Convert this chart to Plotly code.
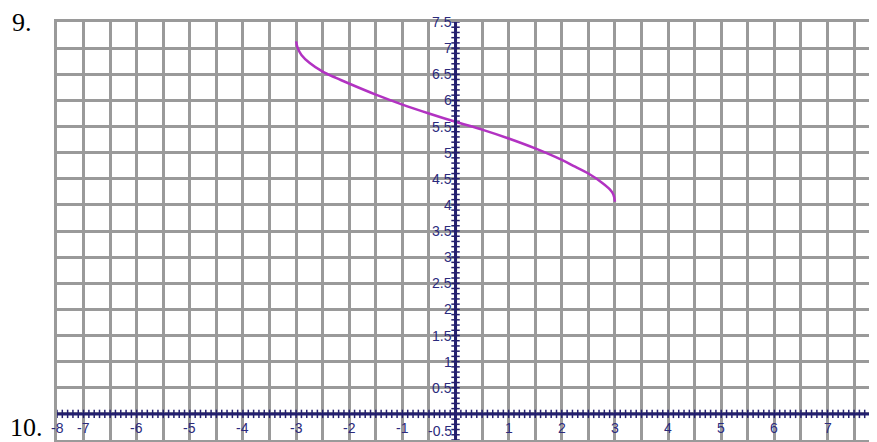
import numpy as np
import plotly.graph_objects as go

# curve
curve_x = [-3, -2.97, -2.9, -2.75, -2.5, -2.25, -2, -1.5, -1, -0.5, 0,
           0.5, 1, 1.5, 2, 2.25, 2.5, 2.75, 2.9, 2.97, 3]
curve_y = [7.13, 7.0, 6.87, 6.72, 6.55, 6.43, 6.32, 6.11, 5.92, 5.75, 5.59,
           5.44, 5.27, 5.08, 4.86, 4.73, 4.6, 4.43, 4.3, 4.2, 4.06]

x_ticks = [-8, -7, -6, -5, -4, -3, -2, -1, 1, 2, 3, 4, 5, 6, 7, 8]
y_ticks = [-0.5, 0.5, 1, 1.5, 2, 2.5, 3, 3.5, 4, 4.5, 5, 5.5, 6, 6.5, 7, 7.5]

X_MIN, X_MAX = -7.5, 7.875
Y_MIN, Y_MAX = -0.5, 7.5

AXIS = "#231f6e"
LABEL = "#2b2a7c"
GRID = "#9a9a9a"

fig = go.Figure()

# axis lines with little ticks every 0.1
fig.add_shape(type="line", x0=X_MIN, x1=X_MAX, y0=0, y1=0,
              line=dict(color=AXIS, width=3))
fig.add_shape(type="line", x0=0, x1=0, y0=Y_MIN, y1=Y_MAX,
              line=dict(color=AXIS, width=3))

tx = np.round(np.arange(X_MIN, X_MAX, 0.1), 2)
fig.add_trace(go.Scatter(x=tx, y=np.zeros_like(tx), mode="markers",
                         marker=dict(symbol="line-ns", size=6,
                                     line=dict(color=AXIS, width=1.5)),
                         hoverinfo="skip", showlegend=False))
ty = np.round(np.arange(Y_MIN, Y_MAX + 0.01, 0.1), 2)
fig.add_trace(go.Scatter(x=np.zeros_like(ty), y=ty, mode="markers",
                         marker=dict(symbol="line-ew", size=6,
                                     line=dict(color=AXIS, width=1.5)),
                         hoverinfo="skip", showlegend=False))

fig.add_trace(go.Scatter(x=curve_x, y=curve_y, mode="lines",
                         line=dict(color="#b232c2", width=2.5, shape="spline"),
                         showlegend=False))

for v in x_ticks:
    xv = min(max(v, X_MIN), X_MAX + 0.1)
    fig.add_annotation(x=xv, y=0, text=str(v), showarrow=False,
                       xanchor="center", yanchor="middle", yshift=-14,
                       font=dict(family="Liberation Sans", size=14, color=LABEL))
for v in y_ticks:
    # bottom label sits on the lower edge, keep it inside the page
    anchor = "bottom" if v == Y_MIN else "middle"
    fig.add_annotation(x=0, y=v, text=str(v), showarrow=False,
                       xanchor="right", yanchor=anchor, xshift=-2,
                       yshift=-1 if v == Y_MIN else 0,
                       font=dict(family="Liberation Sans", size=14, color=LABEL))

# question numbers from the page
fig.add_annotation(xref="paper", yref="paper", x=-0.0427, y=1.0, text="9.",
                   showarrow=False, xanchor="center", yanchor="middle",
                   font=dict(family="Liberation Serif", size=26, color="black"))
fig.add_annotation(xref="paper", yref="paper", x=-0.0598, y=0.031, text="10.",
                   showarrow=False, xanchor="left", yanchor="middle",
                   font=dict(family="Liberation Serif", size=26, color="black"))

fig.update_xaxes(range=[X_MIN, X_MAX], dtick=0.5, tick0=0, showgrid=True,
                 gridcolor=GRID, gridwidth=2.5, zeroline=False,
                 showticklabels=False, showline=True, mirror=True,
                 linecolor=GRID, linewidth=2.5, ticks="")
fig.update_yaxes(range=[Y_MIN, Y_MAX], dtick=0.5, tick0=0, showgrid=True,
                 gridcolor=GRID, gridwidth=2.5, zeroline=False,
                 showticklabels=False, showline=True, mirror=True,
                 linecolor=GRID, linewidth=2.5, ticks="")

# page body adds 8px around the figure, so size and margins allow for it
fig.update_layout(width=869, height=434,
                  margin=dict(l=49, r=0, t=14, b=2),
                  plot_bgcolor="white", paper_bgcolor="white")

fig.write_html("out.html")
